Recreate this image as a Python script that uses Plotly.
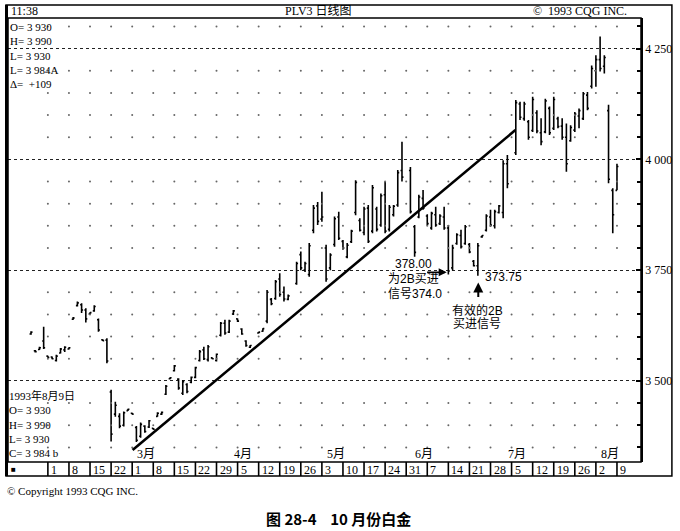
import plotly.graph_objects as go

# ---- data: trading-day offset from Mon 1 Feb 1993 (5 slots per week) ----
day = [-4, -3, -2, -1, 0, 1, 2, 3, 4, 5,
       6, 7, 8, 9, 10, 11, 12, 13, 14, 15,
       16, 17, 18, 19, 20, 21, 22, 23, 24, 25,
       26, 27, 28, 29, 30, 31, 32, 33, 34, 35,
       36, 37, 38, 39, 40, 41, 42, 43, 44, 45,
       46, 47, 48, 50, 51, 52, 53, 54, 55, 56,
       57, 59, 60, 61, 62, 63, 64, 65, 66, 67,
       68, 69, 70, 71, 72, 73, 74, 75, 76, 77,
       78, 79, 80, 81, 82, 83, 84, 86, 87, 88,
       89, 90, 91, 92, 93, 94, 95, 96, 97, 98,
       99, 100, 101, 102, 103, 104, 105, 106, 107, 108,
       109, 111, 112, 113, 114, 115, 116, 117, 118, 119,
       120, 121, 122, 123, 124, 125, 126, 127, 128, 129,
       130, 131, 132, 133, 134, 135]

open_ = [3606, 3568, 3571, 3590, 3556, 3554, 3546, 3563, 3570, 3572,
         3639, 3670, 3672, 3660, 3651, 3658, 3638, 3593, 3592, 3475,
         3425, 3420, 3400, 3433, 3427, 3395, 3375, 3398, 3396, 3393,
         3420, 3425, 3470, 3505, 3523, 3504, 3472, 3492, 3497, 3508,
         3546, 3570, 3548, 3552, 3546, 3603, 3630, 3610, 3651, 3640,
         3617, 3590, 3576, 3608, 3612, 3635, 3684, 3686, 3730, 3700,
         3684, 3720, 3785, 3750, 3740, 3840, 3895, 3865, 3800, 3755,
         3808, 3870, 3815, 3780, 3814, 3880, 3862, 3835, 3890, 3838,
         3888, 3852, 3920, 3842, 3875, 3897, 3975, 3975, 3848, 3870,
         3912, 3872, 3845, 3875, 3855, 3870, 3845, 3755, 3810, 3828,
         3810, 3808, 3770, 3760, 3825, 3840, 3870, 3850, 3880, 3880,
         3990, 4015, 4125, 4092, 4085, 4065, 4105, 4060, 4062, 4115,
         4070, 4092, 4075, 4050, 4042, 4066, 4098, 4092, 4145, 4165,
         4200, 4225, 4210, 4110, 3930, 3930]

high = [3612, 3570, 3577, 3622, 3557, 3555, 3559, 3574, 3578, 3576,
        3644, 3679, 3675, 3664, 3655, 3671, 3641, 3594, 3596, 3480,
        3453, 3427, 3431, 3437, 3428, 3398, 3406, 3400, 3412, 3394,
        3429, 3431, 3491, 3508, 3536, 3506, 3502, 3495, 3510, 3532,
        3570, 3577, 3581, 3553, 3562, 3633, 3638, 3638, 3660, 3641,
        3619, 3592, 3581, 3611, 3619, 3705, 3687, 3728, 3743, 3713,
        3695, 3769, 3792, 3769, 3811, 3897, 3904, 3927, 3807, 3788,
        3871, 3882, 3818, 3811, 3841, 3953, 3867, 3893, 3897, 3942,
        3893, 3923, 3950, 3897, 3897, 3976, 4040, 3983, 3852, 3920,
        3931, 3876, 3882, 3893, 3876, 3893, 3852, 3807, 3833, 3841,
        3852, 3811, 3773, 3811, 3829, 3876, 3886, 3886, 3897, 3998,
        4010, 4134, 4130, 4130, 4089, 4141, 4111, 4093, 4137, 4119,
        4141, 4096, 4093, 4081, 4077, 4107, 4115, 4152, 4152, 4212,
        4235, 4277, 4235, 4123, 3935, 3990]

low = [3604, 3564, 3570, 3572, 3552, 3549, 3544, 3562, 3565, 3571,
       3638, 3668, 3653, 3632, 3650, 3656, 3611, 3590, 3540, 3363,
       3419, 3393, 3397, 3432, 3424, 3362, 3372, 3383, 3394, 3390,
       3419, 3423, 3468, 3504, 3521, 3480, 3468, 3472, 3495, 3506,
       3544, 3547, 3544, 3549, 3544, 3600, 3604, 3608, 3649, 3633,
       3604, 3577, 3574, 3607, 3611, 3630, 3671, 3683, 3690, 3679,
       3682, 3717, 3750, 3746, 3735, 3833, 3852, 3859, 3724, 3750,
       3803, 3818, 3796, 3777, 3811, 3874, 3837, 3829, 3811, 3833,
       3837, 3848, 3833, 3837, 3871, 3893, 3950, 3878, 3780, 3867,
       3886, 3851, 3841, 3848, 3852, 3841, 3740, 3750, 3807, 3799,
       3807, 3788, 3758, 3737.5, 3823, 3837, 3848, 3844, 3878, 3867,
       3935, 4010, 4089, 4087, 4044, 4062, 4059, 4032, 4059, 4055,
       4066, 4070, 4044, 3972, 4040, 4062, 4070, 4089, 4111, 4160,
       4164, 4198, 4194, 3946, 3833, 3930]

close = [3610, 3566, 3575, 3575, 3553, 3550, 3556, 3572, 3576, 3575,
         3642, 3676, 3660, 3640, 3654, 3668, 3615, 3591, 3545, 3380,
         3445, 3398, 3428, 3436, 3425, 3366, 3402, 3386, 3410, 3391,
         3427, 3429, 3488, 3507, 3534, 3484, 3498, 3476, 3508, 3530,
         3566, 3550, 3577, 3550, 3560, 3630, 3608, 3635, 3658, 3635,
         3606, 3580, 3580, 3610, 3618, 3700, 3674, 3724, 3695, 3685,
         3692, 3765, 3755, 3765, 3805, 3890, 3860, 3870, 3730, 3784,
         3866, 3822, 3800, 3806, 3838, 3948, 3840, 3888, 3815, 3936,
         3842, 3918, 3838, 3892, 3894, 3970, 3960, 3882, 3790, 3915,
         3890, 3855, 3878, 3852, 3872, 3845, 3748, 3800, 3830, 3803,
         3848, 3791, 3760, 3805, 3828, 3872, 3852, 3882, 3895, 3990,
         3945, 4128, 4095, 4125, 4050, 4135, 4064, 4040, 4132, 4060,
         4135, 4074, 4050, 3990, 4072, 4102, 4110, 4148, 4115, 4205,
         4225, 4205, 4230, 3955, 3875, 3984]

assert len(day) == len(open_) == len(high) == len(low) == len(close)

trend_x = [20.1, 110.9]
trend_y = [3344, 4066]

week_days = list(range(0, 136, 5))
week_labels = ["1", "8", "15", "22", "1", "8", "15", "22", "29", "5", "12", "19",
               "26", "3", "10", "17", "24", "31", "7", "14", "21", "28", "5", "12",
               "19", "26", "2", "9"]
month_days = [20, 43, 65, 86, 108, 130]
month_labels = ["3月", "4月", "5月", "6月", "7月", "8月"]

y_tick_vals = [3500, 3750, 4000, 4250]
y_tick_text = ["3 500", "3 750", "4 000", "4 250"]
dot_levels = [v for v in range(3350, 4301, 50) if v % 250 != 0]

info_top = ["O= 3 930", "H= 3 990", "L= 3 930", "L= 3 984A", "Δ=  +109"]
info_bottom = ["1993年8月9日", "O= 3 930", "H= 3 990", "L= 3 930", "C= 3 984 b"]

# ---- figure ----
W, H = 680, 531
ML, MR, MT, MB = 8, 37, 18, 69
PW, PH = W - ML - MR, H - MT - MB


def px(xp):
    return (xp - ML) / PW


def py(yp):
    return (H - MB - yp) / PH


SERIF = "Liberation Serif, Noto Sans CJK SC"
SANS = "Liberation Sans, Noto Sans CJK SC"


def label(x, y, text, xref="paper", yref="paper", xanchor="left", yanchor="middle",
          size=12, family=SERIF, **kw):
    d = dict(x=x, y=y, xref=xref, yref=yref, text=text, showarrow=False,
             xanchor=xanchor, yanchor=yanchor,
             font=dict(family=family, size=size, color="black"))
    d.update(kw)
    return d


fig = go.Figure()

gx, gy = [], []
for lv in dot_levels:
    for d in week_days:
        gx.append(d)
        gy.append(lv)
fig.add_trace(go.Scatter(x=gx, y=gy, mode="markers",
                         marker=dict(size=2, color="#666"),
                         hoverinfo="skip", showlegend=False))

fig.add_trace(go.Ohlc(x=day, open=open_, high=high, low=low, close=close,
                      increasing_line_color="black", decreasing_line_color="black",
                      line_width=1.6, tickwidth=0.35, showlegend=False,
                      hoverinfo="skip"))

shapes = []
# trend line
shapes.append(dict(type="line", xref="x", yref="y", x0=trend_x[0], y0=trend_y[0],
                   x1=trend_x[1], y1=trend_y[1], line=dict(color="black", width=2.6)))
# plot box
shapes.append(dict(type="rect", xref="paper", yref="paper", x0=0, x1=1, y0=0, y1=1,
                   line=dict(color="black", width=1.5)))
# outer frame
shapes.append(dict(type="rect", xref="paper", yref="paper", x0=px(6), x1=px(674),
                   y0=py(476), y1=py(5), line=dict(color="black", width=1.5)))
shapes.append(dict(type="line", xref="paper", yref="paper", x0=px(6.5), x1=px(6.5),
                   y0=py(476), y1=py(5), line=dict(color="black", width=3)))
# date row boxes
for d in week_days:
    shapes.append(dict(type="line", xref="x", yref="paper", x0=d, x1=d,
                       y0=py(476), y1=0, line=dict(color="black", width=1.6)))

annotations = []
for d, t in zip(week_days, week_labels):
    annotations.append(label(d, py(469.5), t, xref="x", xshift=1))
annotations.append(label(px(9), py(469.5), "■", size=8, family=SANS))
for d, t in zip(month_days, month_labels):
    annotations.append(label(d, py(454), t, xref="x", xshift=3))

annotations.append(label(px(8), py(19), "<br>".join(info_top), yanchor="top",
                         align="left", size=11))
annotations.append(label(px(7), py(461), "<br>".join(info_bottom), yanchor="bottom",
                         align="left", size=11))

# header
annotations.append(label(px(9), py(11), "11:38"))
annotations.append(label(px(319), py(11), "PLV3 日线图", xanchor="center"))
annotations.append(label(px(533), py(11), "©  1993 CQG INC."))

# footer
annotations.append(label(px(5), py(491), "© Copyright 1993 CQG INC.", size=11))
annotations.append(label(px(340), py(518), "<b>图 28-4    10 月份白金</b>",
                         xanchor="center", size=15, family="Noto Sans CJK SC"))

# chart notes
notes = [("378.00", 86.8, 3764), ("为2B买进", 86.8, 3730), ("信号374.0", 87.2, 3697),
         ("373.75", 108.0, 3734), ("有效的2B", 101.9, 3660), ("买进信号", 101.7, 3628)]
for t, x, y in notes:
    annotations.append(label(x, y, t, xref="x", yref="y", xanchor="center",
                             family=SANS))
annotations.append(dict(x=94.6, y=3745, xref="x", yref="y", ax=89.6, ay=3745,
                        axref="x", ayref="y", text="", showarrow=True,
                        arrowhead=2, arrowsize=1, arrowwidth=1.6, arrowcolor="black"))
annotations.append(dict(x=102.1, y=3722, xref="x", yref="y", ax=102.1, ay=3686,
                        axref="x", ayref="y", text="", showarrow=True,
                        arrowhead=2, arrowsize=1, arrowwidth=2, arrowcolor="black"))

fig.update_layout(
    width=W, height=H,
    margin=dict(l=ML, r=MR, t=MT, b=MB),
    paper_bgcolor="white", plot_bgcolor="white",
    showlegend=False,
    shapes=shapes, annotations=annotations,
    xaxis=dict(range=[-9.46, 140.7], showticklabels=False, showgrid=False,
               zeroline=False, showline=False, rangeslider=dict(visible=False),
               fixedrange=True),
    yaxis=dict(range=[3317, 4319], side="right", tickvals=y_tick_vals,
               ticktext=y_tick_text, ticks="inside", ticklen=5, tickwidth=1.5,
               tickcolor="black", showline=True, linewidth=1.5, linecolor="black",
               showgrid=True, gridcolor="#222", griddash="dot", gridwidth=1,
               zeroline=False, fixedrange=True,
               minor=dict(dtick=50, tick0=0, ticks="inside", ticklen=4,
                          tickcolor="black", tickwidth=1.5, showgrid=False),
               tickfont=dict(family=SERIF, size=12, color="black")),
)

fig.write_html("out.html", config={"displayModeBar": False},
               post_script="document.body.style.margin='0';"
                           "document.body.style.overflow='hidden';")
